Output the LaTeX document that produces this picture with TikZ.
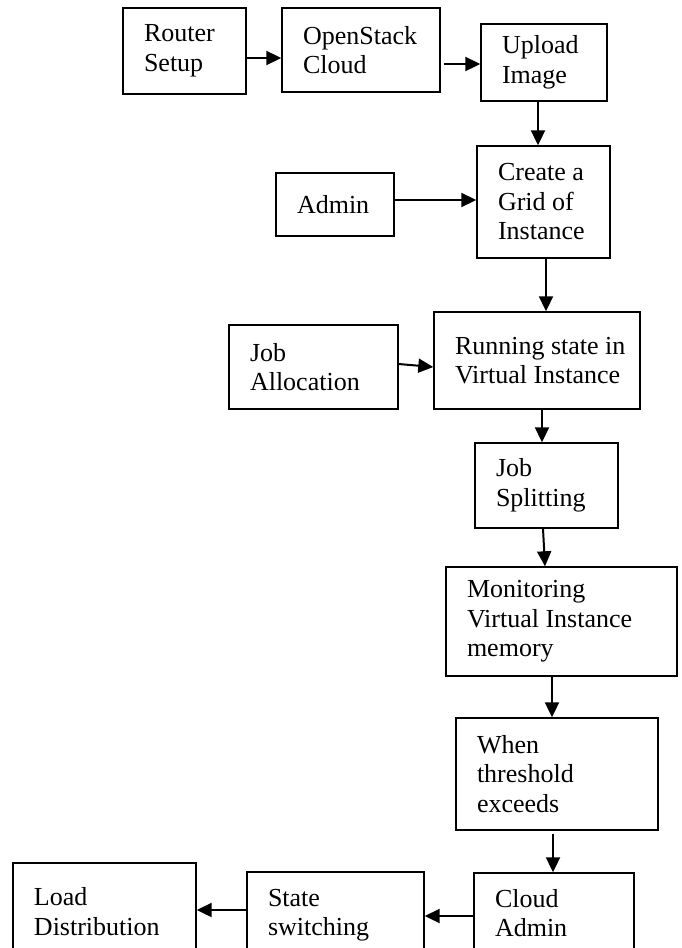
\documentclass[tikz,border=0pt]{standalone}
\usepackage{fontspec}
\setmainfont{Liberation Serif}
\usetikzlibrary{arrows.meta}

\begin{document}
\begin{tikzpicture}[x=1pt, y=-1pt,
  stage/.style={draw=black, line width=1.4pt, fill=white, align=flush left,
                inner xsep=21pt, inner ysep=2pt,
                font=\fontsize{26}{29.5}\selectfont},
  flow/.style={line width=2pt, -{Triangle[length=15pt, width=14pt]}},
]
\useasboundingbox (0,0) rectangle (682,948);
\clip (0,0) rectangle (682,948);

% top row
\node[stage, minimum width=123pt, minimum height=86pt, text width=81pt] (router) at (184.5,51) {Router\\Setup};
\node[stage, minimum width=158pt, minimum height=84pt, text width=116pt] (cloud) at (361,50) {OpenStack\\Cloud};
\node[stage, minimum width=126pt, minimum height=77pt, text width=84pt] (upload) at (544,62.5) {Upload\\Image};

% main column
\node[stage, minimum width=133pt, minimum height=112pt, text width=91pt] (grid) at (543.5,202) {Create~a\\Grid~of\\Instance};
\node[stage, minimum width=118pt, minimum height=63pt, text width=76pt] (admin) at (335,204.5) {Admin};
\node[stage, minimum width=206pt, minimum height=97pt, text width=164pt] (running) at (537,360.5) {\mbox{Running state in}\\\mbox{Virtual Instance}};
\node[stage, minimum width=169pt, minimum height=84pt, text width=127pt] (joballoc) at (313.5,367) {Job\\Allocation};
\node[stage, minimum width=143pt, minimum height=85pt, text width=101pt] (split) at (546.5,485.5) {Job\\Splitting};
\node[stage, minimum width=231pt, minimum height=109pt, text width=189pt] (monitor) at (561.5,621.5) {Monitoring\\Virtual~Instance\\memory};
\node[stage, minimum width=202pt, minimum height=112pt, text width=160pt] (when) at (557,774) {When\\threshold\\exceeds};

% bottom row
\node[stage, minimum width=160pt, minimum height=80pt, text width=118pt] (cadmin) at (554,913) {Cloud\\Admin};
\node[stage, minimum width=177pt, minimum height=86pt, text width=135pt] (state) at (335.5,915) {State\\switching};
\node[stage, minimum width=183pt, minimum height=97pt, text width=141pt] (load) at (104.5,911.5) {Load\\Distribution};

% connectors
\draw[flow] ([yshift=-7pt]router.east) -- ([yshift=-8pt]cloud.west);
\draw[flow] ([xshift=3pt, yshift=-14pt]cloud.east) -- ([yshift=-1.5pt]upload.west);
\draw[flow] ([xshift=-6pt]upload.south) -- ([xshift=-5.5pt]grid.north);
\draw[flow] ([yshift=4.5pt]admin.east) -- ([yshift=2pt]grid.west);
\draw[flow] ([xshift=2.5pt]grid.south) -- ([xshift=9pt]running.north);
\draw[flow] ([yshift=3pt]joballoc.east) -- ([yshift=-6.5pt]running.west);
\draw[flow] ([xshift=5pt]running.south) -- ([xshift=-4.5pt]split.north);
\draw[flow] ([xshift=-3.5pt]split.south) -- ([xshift=-16.5pt]monitor.north);
\draw[flow] ([xshift=-9.5pt]monitor.south) -- ([xshift=-5pt]when.north);
\draw[flow] ([xshift=-4pt, yshift=-3pt]when.south) -- ([xshift=-1pt]cadmin.north);
\draw[flow] ([yshift=-3pt]cadmin.west) -- ([yshift=-1pt]state.east);
\draw[flow] ([yshift=5pt]state.west) -- ([yshift=1.5pt]load.east);
\end{tikzpicture}
\end{document}
